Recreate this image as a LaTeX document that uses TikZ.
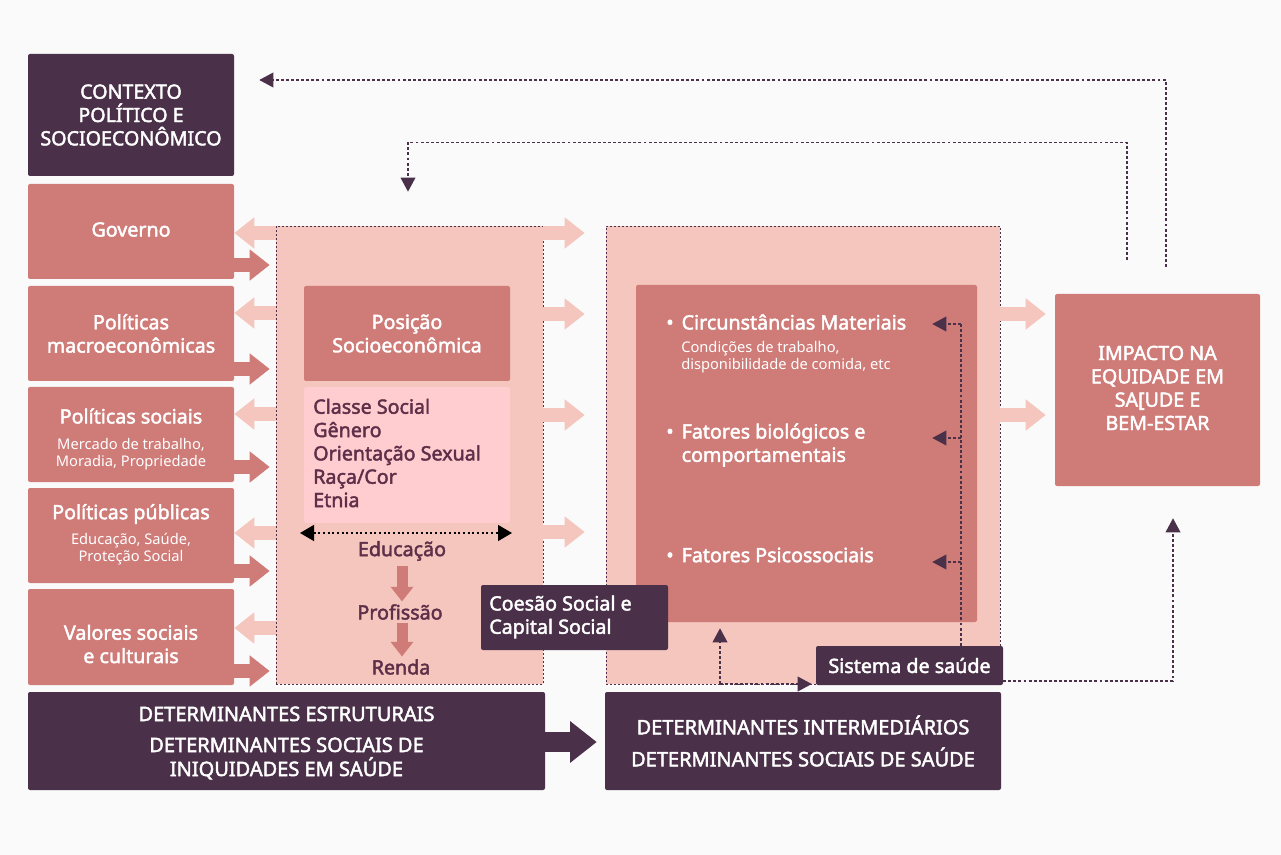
\documentclass[tikz,border=0pt]{standalone}
\usepackage{fontspec}
\setmainfont{Noto Sans}[BoldFont={Noto Sans}, BoldFeatures={FakeBold=2.2}]
\usetikzlibrary{arrows.meta,fit,calc}

\definecolor{bgcol}{HTML}{FAFAFA}
\definecolor{plum}{HTML}{4A3048}
\definecolor{rose}{HTML}{CF7B78}
\definecolor{blush}{HTML}{F4C6BD}
\definecolor{pale}{HTML}{FFCCD0}
\definecolor{wine}{HTML}{5E2F48}

\newcommand{\bigtxt}{\fontsize{14.75pt}{17.5pt}\selectfont\bfseries}
\newcommand{\smalltxt}{\fontsize{11pt}{12.75pt}\selectfont\mdseries}
\newcommand{\captxt}{\fontsize{15pt}{18pt}\selectfont\bfseries}
\newcommand{\blt}{•\hspace{6pt}}

\begin{document}
\begin{tikzpicture}[
        x=0.75pt, y=-0.75pt,
        basebox/.style={inner sep=0pt, rounded corners=1.5pt},
        darkbox/.style={basebox, fill=plum},
        rosebox/.style={basebox, fill=rose},
        regionbox/.style={inner sep=0pt, fill=blush, draw=plum, line width=0.5pt,
                          dash pattern=on 1.5pt off 1.5pt},
        lightarr/.style={draw=blush, line width=10.5pt, -{Triangle[width=22.5pt,length=15pt]}},
        rosearr/.style={draw=rose, line width=10.5pt, -{Triangle[width=22.5pt,length=15pt]}},
        downarr/.style={draw=rose, line width=8.25pt, -{Triangle[width=16.5pt,length=11pt]}},
        bigarr/.style={draw=plum, line width=15pt, -{Triangle[width=30pt,length=20pt]}},
        dblarr/.style={draw=black, line width=1pt, dash pattern=on 1.5pt off 2pt,
                       {Triangle[width=12pt,length=10.5pt]}-{Triangle[width=12pt,length=10.5pt]}},
        fbline/.style={draw=plum, line width=1.1pt, dash pattern=on 2.2pt off 1.6pt},
        fbarrow/.style={fbline, -{Triangle[width=11pt,length=10.5pt]}},
        titletxt/.style={inner sep=0pt, align=center, text=white, font=\bigtxt},
        captiontxt/.style={inner sep=0pt, align=center, text=white, font=\captxt},
        stagetxt/.style={inner sep=2pt, text=wine, font=\bigtxt},
        listtxt/.style={inner sep=0pt, anchor=west, align=left, text=wine, font=\bigtxt},
        bultxt/.style={inner sep=0pt, anchor=west, align=left, text=white, font=\bigtxt},
        subtxt/.style={inner sep=0pt, align=center, text=white, font=\smalltxt}
    ]
    \fill[bgcol] (0,0) rectangle (1281,855);

    % regions
    \node[regionbox, fit={(276,226) (543,684)}] (strreg) {};
    \node[regionbox, fit={(606,226) (1000,684)}] (intreg) {};

    % left column
    \node[darkbox, fit={(28,54) (234,176)}] (ctx) {};
    \node[titletxt] (ctxtxt) at (ctx) {CONTEXTO\\POLÍTICO E\\SOCIOECONÔMICO};
    \node[rosebox, fit={(28,184) (234,279)}] (gov) {};
    \node[titletxt] (govtxt) at ($(gov)+(0,-2)$) {Governo};
    \node[rosebox, fit={(28,286) (234,381)}] (macro) {};
    \node[titletxt] (macrotxt) at (macro) {Políticas\\macroeconômicas};
    \node[rosebox, fit={(28,387) (234,482)}] (sociais) {};
    \node[titletxt] (sociaistit) at (131,416) {Políticas sociais};
    \node[subtxt] (sociaissub) at (131,454) {Mercado de trabalho,\\Moradia, Propriedade};
    \node[rosebox, fit={(28,488) (234,583)}] (publicas) {};
    \node[titletxt] (publicastit) at (131,514) {Políticas públicas};
    \node[subtxt] (publicassub) at (131,549.5) {Educação, Saúde,\\Proteção Social};
    \node[rosebox, fit={(28,589) (234,685)}] (valores) {};
    \node[titletxt] (valorestxt) at ($(valores)+(0,7)$) {Valores sociais\\e culturais};

    % arrows between columns
    \foreach \nd/\yy in {gov/233, macro/313, sociais/414, publicas/533, valores/628}
        \draw[lightarr] (strreg.west |- 0,\yy) -- (\nd.east |- 0,\yy);
    \foreach \nd/\yy in {gov/265, macro/369, sociais/467, publicas/571, valores/671}
        \draw[rosearr, shorten >=4.5pt] (\nd.east |- 0,\yy) -- (strreg.west |- 0,\yy);
    \foreach \yy in {233,314,415,532}
        \draw[lightarr, shorten >=15.75pt] (strreg.east |- 0,\yy) -- (intreg.west |- 0,\yy);

    % structural determinants
    \node[rosebox, fit={(304,286) (510,381)}] (posicao) {};
    \node[titletxt] (posicaotxt) at (posicao) {Posição\\Socioeconômica};
    \node[basebox, fill=pale, fit={(304,387) (510,523)}] (classe) {};
    \node[listtxt] (classetxt) at (313,453)
        {Classe Social\\Gênero\\Orientação Sexual\\Raça/Cor\\Etnia};
    \coordinate (eduL) at (300,533);
    \coordinate (eduR) at (512,533);
    \draw[dblarr] (eduL) -- (eduR);
    \node[stagetxt] (educ) at (402,551) {Educação};
    \node[stagetxt] (prof) at (400,612) {Profissão};
    \node[stagetxt] (renda) at (401,667) {Renda};
    \draw[downarr] ([yshift=-2pt]educ.south) -- (educ.south |- prof.north);
    \draw[downarr] (educ.south |- prof.south) -- (educ.south |- renda.north);

    % intermediary determinants
    \node[rosebox, fit={(636,285) (977,622)}] (circbox) {};
    \node[bultxt] (circ) at (666,322) {\blt Circunstâncias Materiais};
    \node[subtxt, anchor=west, align=left] (circsub) at (681,357)
        {Condições de trabalho,\\disponibilidade de comida, etc};
    \node[bultxt] (bio) at (666,445) {\blt Fatores biológicos e\\\hphantom{\blt}comportamentais};
    \node[bultxt] (psico) at (666,555) {\blt Fatores Psicossociais};

    \node[darkbox, fit={(481,585) (668,650)}] (coesao) {};
    \node[bultxt] (coesaotxt) at (489,617) {Coesão Social e\\Capital Social};
    \node[darkbox, fit={(816,646) (1003,685)}] (sist) {};
    \node[titletxt] (sisttxt) at (sist) {Sistema de saúde};

    % impact
    \node[rosebox, fit={(1055,294) (1260,486)}] (impact) {};
    \node[titletxt] (impacttxt) at ($(impact)+(0,-2)$) {IMPACTO NA\\EQUIDADE EM\\SA[UDE E\\BEM-ESTAR};
    \foreach \yy in {314,415}
        \draw[lightarr, shorten >=6.75pt] (intreg.east |- 0,\yy) -- (impact.west |- 0,\yy);

    % bottom row
    \node[darkbox, fit={(28,692) (545,790)}] (estr) {};
    \node[captiontxt] (estrtxt) at ($(estr)+(0,2)$)
        {DETERMINANTES ESTRUTURAIS\\[5.25pt]DETERMINANTES SOCIAIS DE\\INIQUIDADES EM SAÚDE};
    \node[darkbox, fit={(605,692) (1001,790)}] (inter) {};
    \node[captiontxt] (intertxt) at (inter)
        {DETERMINANTES INTERMEDIÁRIOS\\[6pt]DETERMINANTES SOCIAIS DE SAÚDE};
    \draw[bigarr, shorten >=6pt] (estr.east |- 0,742) -- (inter.west |- 0,742);

    % feedback loops
    \coordinate (fbout) at (1166,267);
    \coordinate (fbin) at (1127,260);
    \draw[fbarrow] (fbout) |- ($(ctx.east |- 0,80)+(25,0)$);
    \draw[fbarrow] (fbin) |- ($(strreg.north)+(-1.5,-83)$) -- ($(strreg.north)+(-1.5,-34)$);

    % health system
    \coordinate (sv) at ($(sist.north)+(51.5,0)$);
    \draw[fbline] (sv) -- (sv |- 0,324);
    \foreach \yy in {324,438,562}
        \draw[fbarrow] (sv |- 0,\yy) -- ($(circbox.east |- 0,\yy)+(-45,0)$);
    \coordinate (hs) at (720,684);
    \draw[fbarrow] (hs) -- ($(circbox.south -| hs)+(0,6)$);
    \draw[fbarrow] (hs) -- ($(sist.west |- hs)+(-4,0)$);
    \draw[fbarrow] (sist.east |- 0,681) -| ($(impact.south)+(15.5,32)$);
\end{tikzpicture}
\end{document}
